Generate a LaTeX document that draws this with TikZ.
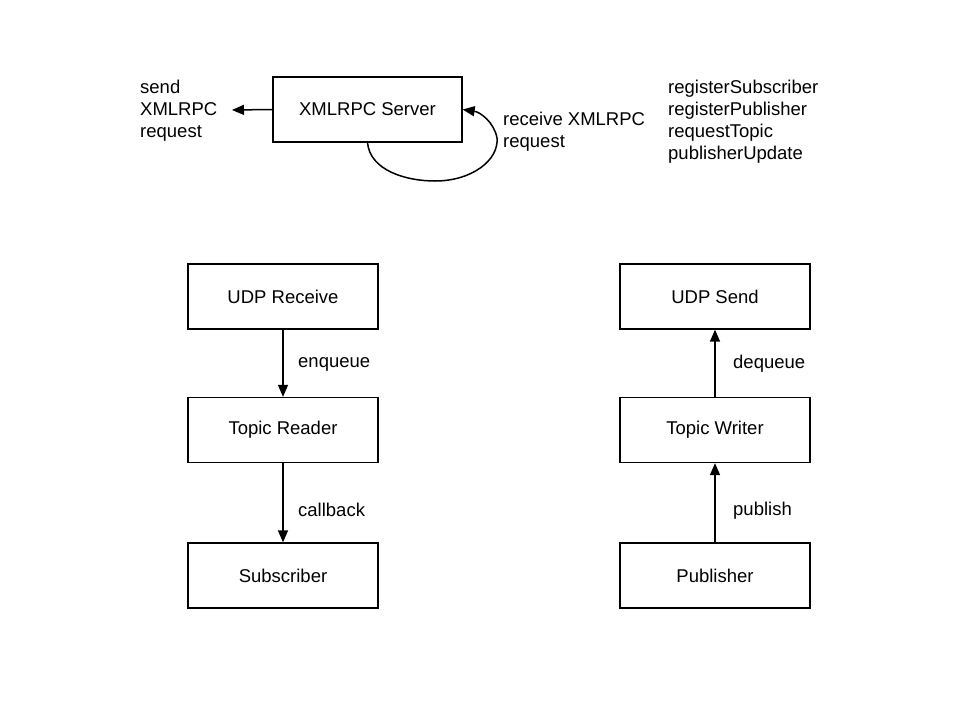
\documentclass[tikz,border=0pt]{standalone}
\usepackage{fontspec}
\setmainfont{Liberation Sans}
\usetikzlibrary{arrows.meta}
\begin{document}
\begin{tikzpicture}[x=1pt,y=-1pt,
  box/.style={draw,line width=1.3pt,minimum width=190pt,minimum height=65pt,inner sep=0pt,font=\fontsize{18.5}{22}\selectfont},
  lbl/.style={anchor=west,inner sep=0pt,align=left,font=\fontsize{18.5}{22}\selectfont},
  arr/.style={line width=1.5pt,-{Triangle[length=12pt,width=10pt]}}]
\useasboundingbox (0,0) rectangle (960,720);
\node[box,minimum width=189pt] (srv) at (367.5,109.5) {XMLRPC Server};
\node[lbl] (send) at (140,111) {send\\XMLRPC\\request};
\coordinate (sendend) at (232,110);
\node[lbl] (recv) at (503,132) {receive XMLRPC\\request};
\node[lbl] (list) at (668,122) {registerSubscriber\\registerPublisher\\requestTopic\\publisherUpdate};

\node[box] (udpr) at (283,296.5) {UDP Receive};
\node[box] (tr) at (283,430) {Topic Reader};
\node[box] (sub) at (283,575.5) {Subscriber};
\node[box] (udps) at (715,296.5) {UDP Send};
\node[box] (tw) at (715,430) {Topic Writer};
\node[box] (pub) at (715,575.5) {Publisher};

\node[lbl] (enq) at (298,364) {enqueue};
\node[lbl] (cb) at (298,510) {callback};
\node[lbl] (deq) at (733,364) {dequeue};
\node[lbl] (publ) at (733,511) {publish};

\draw[arr] (srv.west) -- (sendend);
\draw[arr] (srv.south) .. controls (370,170) and (405,181) .. (435,181)
  .. controls (472,181) and (499,160) .. (497,138)
  .. controls (494,122) and (480,112) .. (srv.east);
\draw[arr] (udpr) -- (tr);
\draw[arr] (tr) -- (sub);
\draw[arr] (tw) -- (udps);
\draw[arr] (pub) -- (tw);
\end{tikzpicture}
\end{document}
